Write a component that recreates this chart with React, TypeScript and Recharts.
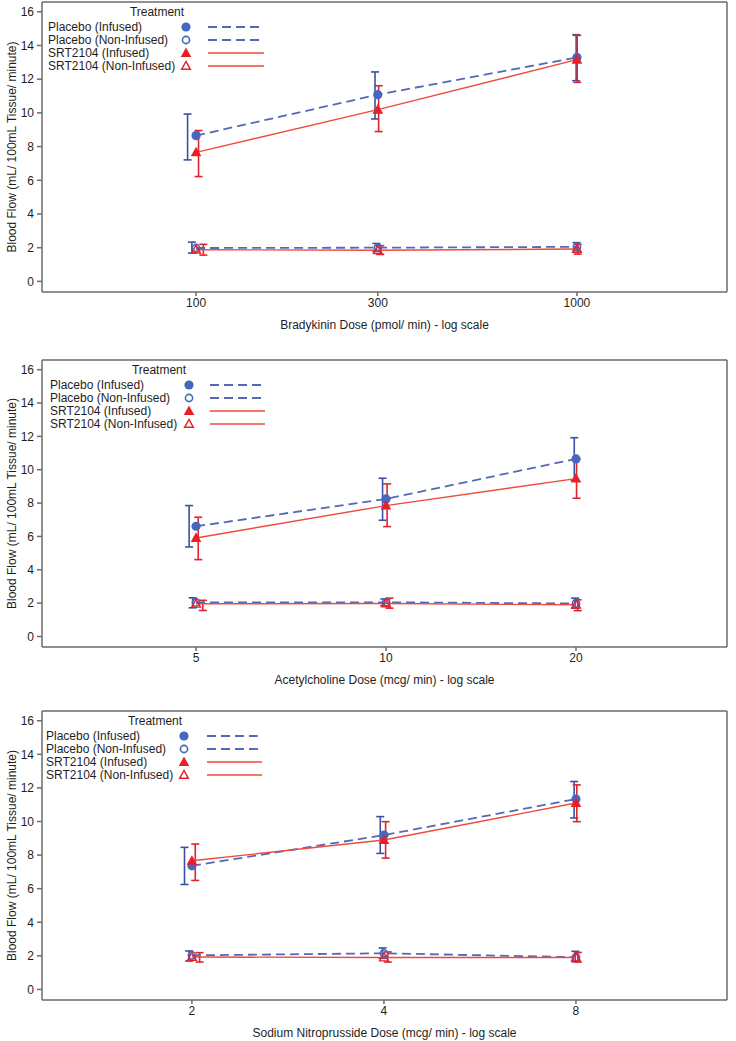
import React from 'react';
import { ComposedChart, Line, Scatter, XAxis, YAxis, ErrorBar, ReferenceLine, Label } from 'recharts';

const FONT = "'Liberation Sans', Arial, Helvetica, sans-serif";
const NARROW = "'Liberation Sans Narrow', 'Arial Narrow', 'Liberation Sans', sans-serif";

const FRAME = '#6b6b6b';
const TEXT = '#1e1e1e';

const seriesNames = ['Placebo (Infused)', 'Placebo (Non-Infused)', 'SRT2104 (Infused)', 'SRT2104 (Non-Infused)'];

const yTicks = [0, 2, 4, 6, 8, 10, 12, 14, 16];

// each point: [mean, lower, upper]
const bkDoses = [100, 300, 1000];
const bkPlaceboInf = [[8.65, 7.21, 9.93], [11.08, 9.64, 12.43], [13.29, 11.91, 14.64]];
const bkPlaceboNon = [[1.98, 1.68, 2.33], [2.0, 1.78, 2.25], [2.05, 1.82, 2.3]];
const bkSrtInf = [[7.66, 6.22, 8.95], [10.19, 8.89, 11.61], [13.16, 11.81, 14.6]];
const bkSrtNon = [[1.88, 1.56, 2.2], [1.85, 1.6, 2.12], [1.92, 1.62, 2.2]];

const achDoses = [5, 10, 20];
const achPlaceboInf = [[6.61, 5.37, 7.85], [8.25, 6.97, 9.49], [10.65, 9.38, 11.92]];
const achPlaceboNon = [[2.04, 1.72, 2.32], [2.05, 1.85, 2.25], [1.98, 1.7, 2.3]];
const achSrtInf = [[5.91, 4.61, 7.15], [7.85, 6.59, 9.15], [9.47, 8.29, 10.65]];
const achSrtNon = [[1.96, 1.56, 2.17], [1.98, 1.7, 2.3], [1.9, 1.55, 2.2]];

const snpDoses = [2, 4, 8];
const snpPlaceboInf = [[7.36, 6.25, 8.46], [9.19, 8.1, 10.29], [11.34, 10.21, 12.38]];
const snpPlaceboNon = [[2.03, 1.69, 2.29], [2.15, 1.85, 2.47], [1.92, 1.65, 2.27]];
const snpSrtInf = [[7.66, 6.49, 8.66], [8.9, 7.82, 9.99], [11.1, 9.99, 12.18]];
const snpSrtNon = [[1.93, 1.63, 2.19], [1.9, 1.63, 2.23], [1.9, 1.63, 2.2]];

const styles = [
  { marker: 'circle', filled: true, fill: '#4468c0', line: '#5469b6', bar: '#3a52a3', dash: '9 5', lw: 1.8 },
  { marker: 'circle', filled: false, fill: '#4468c0', line: '#5469b6', bar: '#3a52a3', dash: '9 5', lw: 1.8 },
  { marker: 'triangle', filled: true, fill: '#e91e27', line: '#ef4a3d', bar: '#e0242f', dash: undefined, lw: 1.4 },
  { marker: 'triangle', filled: false, fill: '#e91e27', line: '#ef4a3d', bar: '#e0242f', dash: undefined, lw: 1.4 },
];

const panels = [
  {
    top: 0, plotH: 290, domain: [39.4, 2477], doses: bkDoses,
    series: [bkPlaceboInf, bkPlaceboNon, bkSrtInf, bkSrtNon],
    shift: [-5, -2.5, 1.5, 4.5],
    title: 'Bradykinin Dose (pmol/ min) - log scale',
    legend: { titleX: 157, textX: 48, markerX: 186, x1: 208, x2: 264, font: FONT },
  },
  {
    top: 358, plotH: 287, domain: [2.85, 34.7], doses: achDoses,
    series: [achPlaceboInf, achPlaceboNon, achSrtInf, achSrtNon],
    shift: [-0.125, -0.0625, 0.04, 0.125],
    title: 'Acetylcholine Dose (mcg/ min) - log scale',
    legend: { titleX: 159, textX: 50, markerX: 189, x1: 210, x2: 265, font: NARROW },
  },
  {
    top: 709, plotH: 289, domain: [1.164, 13.8], doses: snpDoses,
    series: [snpPlaceboInf, snpPlaceboNon, snpSrtInf, snpSrtNon],
    shift: [-0.053, -0.02, 0.024, 0.056],
    title: 'Sodium Nitroprusside Dose (mcg/ min) - log scale',
    legend: { titleX: 155, textX: 46, markerX: 184, x1: 207, x2: 262, font: NARROW },
  },
];

const Y_DOMAIN = [-0.63, 16.58];

const Marker = ({ cx, cy, s }: any) => {
  if (cx == null || cy == null) return null;
  if (s.marker === 'circle') {
    return s.filled
      ? <circle cx={cx} cy={cy} r={4.6} fill={s.fill} />
      : <circle cx={cx} cy={cy} r={3.6} fill="none" stroke={s.fill} strokeWidth={1.6} />;
  }
  const r = s.filled ? 5.6 : 4.6;
  const pts = `${cx},${cy - r} ${cx + r * 0.95},${cy + r * 0.72} ${cx - r * 0.95},${cy + r * 0.72}`;
  return s.filled
    ? <polygon points={pts} fill={s.fill} />
    : <polygon points={pts} fill="none" stroke={s.fill} strokeWidth={1.4} />;
};

const LegendBox = ({ lg }: any) => (
  <svg width={300} height={80} style={{ position: 'absolute', left: 0, top: 0, pointerEvents: 'none' }}>
    <text x={lg.titleX} y={16} textAnchor="middle" fontSize={12} fontFamily={FONT} fill={TEXT}>Treatment</text>
    {seriesNames.map((name, i) => {
      const cy = 27 + i * 13;
      const s = styles[i];
      return (
        <g key={name}>
          <text x={lg.textX} y={cy + 4.3} fontSize={12} fontFamily={lg.font} fill={TEXT}>{name}</text>
          <Marker cx={lg.markerX} cy={cy} s={s} />
          <line x1={lg.x1} x2={lg.x2} y1={cy} y2={cy} stroke={s.line} strokeWidth={s.lw} strokeDasharray={s.dash} />
        </g>
      );
    })}
  </svg>
);

const Panel = ({ p }: any) => {
  const chartH = 2 + p.plotH + 40;
  const tickStyle = { fill: TEXT, fontSize: 12, fontFamily: FONT };
  return (
    <div style={{ position: 'absolute', left: 0, top: p.top, width: 736, height: chartH }}>
      <ComposedChart width={736} height={chartH} margin={{ top: 2, right: 0, bottom: 0, left: 0 }}>
        <XAxis
          type="number" dataKey="x" scale="log" domain={p.domain} allowDataOverflow
          ticks={p.doses} interval={0} height={40} tickSize={4} tickMargin={2}
          stroke={FRAME} strokeWidth={1.5} tick={tickStyle}
        >
          <Label
            content={({ viewBox }: any) => (
              <text x={viewBox.x + viewBox.width / 2} y={viewBox.y + 37} textAnchor="middle"
                fontSize={12} fontFamily={FONT} fill={TEXT}>{p.title}</text>
            )}
          />
        </XAxis>
        <YAxis
          type="number" domain={Y_DOMAIN} allowDataOverflow ticks={yTicks} interval={0}
          width={42} tickSize={5} tickMargin={3} stroke={FRAME} strokeWidth={1.5} tick={tickStyle}
        >
          <Label
            content={({ viewBox }: any) => {
              const cy = viewBox.y + viewBox.height / 2;
              return (
                <text x={16} y={cy} transform={`rotate(-90, 16, ${cy})`} textAnchor="middle"
                  fontSize={12} fontFamily={FONT} fill={TEXT}>Blood Flow (mL/ 100mL Tissue/ minute)</text>
              );
            }}
          />
        </YAxis>
        <YAxis
          yAxisId="r" orientation="right" type="number" domain={Y_DOMAIN} allowDataOverflow
          ticks={yTicks} interval={0} width={9} tickSize={4} tick={false} stroke={FRAME} strokeWidth={1.5}
        />
        <ReferenceLine y={Y_DOMAIN[1]} stroke={FRAME} strokeWidth={1.5} />
        {p.series.map((vals: number[][], i: number) => (
          <Scatter
            key={`eb${i}`}
            data={p.doses.map((d: number, k: number) => ({
              x: d + p.shift[i], y: vals[k][0], err: [vals[k][0] - vals[k][1], vals[k][2] - vals[k][0]],
            }))}
            dataKey="y" shape={() => <g />} isAnimationActive={false}
          >
            <ErrorBar dataKey="err" direction="y" width={4} stroke={styles[i].bar} strokeWidth={1.6} isAnimationActive={false} />
          </Scatter>
        ))}
        {p.series.map((vals: number[][], i: number) => (
          <Line
            key={`ln${i}`}
            data={p.doses.map((d: number, k: number) => ({ x: d, y: vals[k][0] }))}
            dataKey="y" type="linear" stroke={styles[i].line} strokeWidth={styles[i].lw}
            strokeDasharray={styles[i].dash} isAnimationActive={false} activeDot={false}
            dot={(props: any) => <Marker key={`m${i}-${props.index}`} cx={props.cx} cy={props.cy} s={styles[i]} />}
          />
        ))}
      </ComposedChart>
      <LegendBox lg={p.legend} />
    </div>
  );
};

export default function App() {
  return (
    <div style={{ position: 'absolute', left: 0, top: 0, width: 736, height: 1041, overflow: 'hidden', background: '#fff' }}>
      {panels.map((p, i) => <Panel key={i} p={p} />)}
    </div>
  );
}
